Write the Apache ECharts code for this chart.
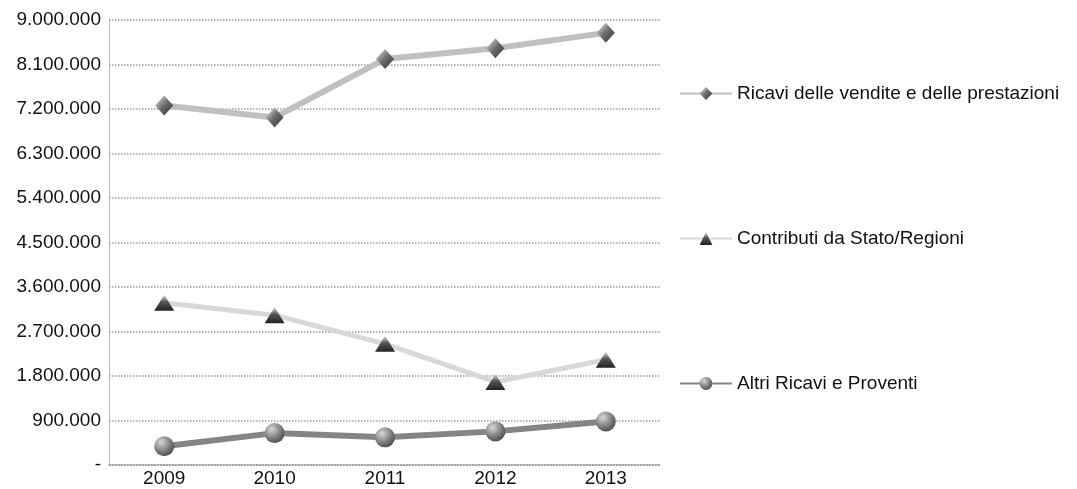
<!DOCTYPE html>
<html>
<head>
<meta charset="utf-8">
<script src="https://cdn.jsdelivr.net/npm/echarts@6/dist/echarts.min.js"></script>
<style>html,body{margin:0;padding:0;background:#fff}#c{width:1077px;height:489px}</style>
</head>
<body>
<div id="c"></div>
<script>
var years = ['2009', '2010', '2011', '2012', '2013'];
var ricavi = [7270000, 7030000, 8210000, 8430000, 8740000];
var contributi = [3280000, 3030000, 2450000, 1680000, 2130000];
var altri = [380000, 645000, 560000, 680000, 880000];
var yTicks = { min: 0, max: 9000000, interval: 900000 };

function fmt(v) {
  if (v === 0) return '-';
  return String(v).replace(/\B(?=(\d{3})+(?!\d))/g, '.');
}

var chart = echarts.init(document.getElementById('c'));
var font = 'Liberation Sans, Arial, sans-serif';
chart.setOption({
  animation: false,
  backgroundColor: '#fff',
  textStyle: { fontFamily: font },
  grid: { left: 109, right: 416, top: 20, bottom: 24, containLabel: false },
  legend: {
    orient: 'vertical',
    left: 674,
    top: 79,
    itemGap: 126,
    itemWidth: 52,
    itemHeight: 16,
    textStyle: { fontSize: 19, color: '#111', fontFamily: font },
    data: ['Ricavi delle vendite e delle prestazioni', 'Contributi da Stato/Regioni', 'Altri Ricavi e Proventi']
  },
  xAxis: {
    type: 'category',
    data: years,
    boundaryGap: true,
    axisLine: { lineStyle: { color: '#999', width: 1.5, type: 'dotted' } },
    axisTick: { show: false },
    axisLabel: { fontSize: 19, color: '#111', margin: 4, fontFamily: font }
  },
  yAxis: {
    type: 'value',
    min: yTicks.min,
    max: yTicks.max,
    interval: yTicks.interval,
    axisLine: { show: true, lineStyle: { color: '#aaa', width: 1, type: 'dotted' } },
    axisTick: { show: false },
    splitLine: { lineStyle: { color: '#9a9a9a', width: 1.5, type: 'dotted' } },
    axisLabel: { fontSize: 19, color: '#111', margin: 8, formatter: fmt, fontFamily: font }
  },
  series: [
    {
      name: 'Ricavi delle vendite e delle prestazioni',
      type: 'line',
      data: ricavi,
      symbol: 'diamond',
      symbolSize: [18, 20],
      lineStyle: { color: '#c0c0c0', width: 6 },
      itemStyle: {
        color: new echarts.graphic.LinearGradient(0, 0, 1, 1, [
          { offset: 0, color: '#e8e8e8' }, { offset: 0.5, color: '#6a6a6a' }, { offset: 1, color: '#333' }
        ])
      },
      z: 3
    },
    {
      name: 'Contributi da Stato/Regioni',
      type: 'line',
      data: contributi,
      symbol: 'triangle',
      symbolSize: [20, 16],
      lineStyle: { color: '#d8d8d8', width: 5 },
      itemStyle: {
        color: new echarts.graphic.LinearGradient(0, 0, 0, 1, [
          { offset: 0, color: '#e0e0e0' }, { offset: 0.45, color: '#555' }, { offset: 1, color: '#222' }
        ])
      },
      z: 3
    },
    {
      name: 'Altri Ricavi e Proventi',
      type: 'line',
      data: altri,
      symbol: 'circle',
      symbolSize: 20,
      lineStyle: { color: '#858585', width: 6 },
      itemStyle: {
        color: new echarts.graphic.RadialGradient(0.35, 0.3, 0.8, [
          { offset: 0, color: '#d6d6d6' }, { offset: 0.6, color: '#7a7a7a' }, { offset: 1, color: '#444' }
        ])
      },
      z: 3
    }
  ]
});
</script>
</body>
</html>
